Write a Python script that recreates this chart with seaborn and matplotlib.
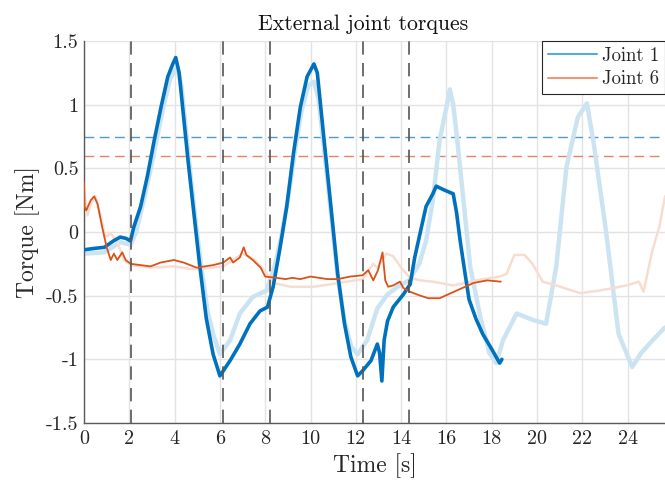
import numpy as np
import pandas as pd
import matplotlib
matplotlib.use("Agg")
import matplotlib.pyplot as plt
import seaborn as sns
from matplotlib.lines import Line2D

# ---- data ----
j1_t = [0.0, 0.4, 0.9, 1.3, 1.6, 1.85, 2.05, 2.2, 2.5, 2.8, 3.1, 3.4, 3.7, 3.92, 4.05, 4.2, 4.4, 4.6,
        4.85, 5.1, 5.4, 5.7, 6.0, 6.15, 6.45, 6.88, 7.33, 7.77, 8.1, 8.35, 8.65, 8.95, 9.25, 9.55, 9.85,
        10.15, 10.3, 10.6, 10.9, 11.2, 11.5, 11.78, 12.08, 12.3, 12.67, 12.95, 13.05, 13.15, 13.25, 13.4,
        13.65, 14.1, 14.4, 14.6, 14.85, 15.1, 15.4, 15.55, 15.9, 16.3, 16.45, 16.6, 16.8, 17.0, 17.3,
        17.6, 18.0, 18.35, 18.45]
j1_v = [-0.14, -0.13, -0.12, -0.07, -0.04, -0.05, -0.07, 0.04, 0.2, 0.44, 0.72, 0.98, 1.22, 1.32, 1.37,
        1.25, 0.9, 0.55, 0.15, -0.25, -0.68, -0.96, -1.13, -1.09, -1.01, -0.88, -0.72, -0.62, -0.59,
        -0.43, -0.13, 0.2, 0.62, 0.98, 1.22, 1.32, 1.25, 0.72, 0.2, -0.33, -0.72, -0.98, -1.13, -1.09,
        -1.01, -0.88, -0.95, -1.17, -0.85, -0.7, -0.59, -0.49, -0.41, -0.2, 0.0, 0.2, 0.3, 0.36, 0.33,
        0.3, 0.15, -0.06, -0.3, -0.53, -0.68, -0.8, -0.92, -1.03, -1.0]

j1f_t = [0.0, 0.9, 1.6, 2.06, 2.3, 2.6, 2.9, 3.2, 3.5, 3.8, 4.1, 4.3, 4.5, 4.7, 4.95, 5.2, 5.45, 5.7,
         6.0, 6.45, 6.88, 7.45, 8.05, 8.4, 8.7, 9.0, 9.3, 9.6, 9.9, 10.15, 10.35, 10.6, 10.9, 11.2, 11.5,
         11.8, 12.08, 12.5, 12.95, 13.4, 13.85, 14.35, 14.8, 15.1, 15.4, 15.7, 16.0, 16.15, 16.3, 16.45,
         16.75, 17.05, 17.5, 17.9, 18.2, 18.5, 19.1, 19.8, 20.4, 20.85, 21.3, 21.8, 22.2, 22.5, 23.05,
         23.6, 24.2, 24.6, 25.1, 25.65]
j1f_v = [-0.17, -0.16, -0.08, -0.1, 0.0, 0.22, 0.46, 0.72, 0.98, 1.2, 1.3, 1.15, 0.8, 0.45, 0.05, -0.3,
         -0.62, -0.8, -0.96, -0.85, -0.64, -0.51, -0.46, -0.28, -0.05, 0.25, 0.62, 0.95, 1.15, 1.18,
         1.05, 0.65, 0.15, -0.35, -0.7, -0.9, -0.96, -0.85, -0.6, -0.49, -0.43, -0.38, -0.25, -0.07,
         0.25, 0.72, 0.98, 1.12, 1.0, 0.77, 0.25, -0.27, -0.67, -0.95, -1.03, -0.85, -0.64, -0.69,
         -0.72, -0.27, 0.51, 0.9, 1.01, 0.7, 0.0, -0.8, -1.06, -0.95, -0.85, -0.75]

j6_t = [0.0, 0.02, 0.1, 0.3, 0.45, 0.6, 0.8, 1.0, 1.18, 1.32, 1.47, 1.69, 1.84, 2.06, 2.5, 2.94, 3.38,
        3.97, 4.4, 4.97, 5.7, 6.15, 6.45, 6.58, 6.88, 7.05, 7.17, 7.45, 7.8, 8.0, 8.5, 8.9, 9.2, 9.55,
        10.0, 10.75, 11.2, 11.75, 12.3, 12.55, 12.77, 12.98, 13.18, 13.3, 13.43, 13.65, 13.95, 14.1,
        14.4, 14.85, 15.2, 15.7, 16.45, 17.2, 17.8, 18.4]
j6_v = [0.39, 0.2, 0.17, 0.25, 0.28, 0.22, 0.04, -0.12, -0.22, -0.17, -0.22, -0.16, -0.22, -0.25,
        -0.26, -0.27, -0.24, -0.22, -0.24, -0.28, -0.26, -0.24, -0.2, -0.24, -0.2, -0.12, -0.18, -0.22,
        -0.28, -0.35, -0.36, -0.37, -0.36, -0.37, -0.35, -0.37, -0.37, -0.35, -0.34, -0.3, -0.38, -0.3,
        -0.16, -0.38, -0.43, -0.42, -0.39, -0.44, -0.47, -0.5, -0.52, -0.52, -0.46, -0.4, -0.38, -0.39]

j6f_t = [0.0, 0.15, 0.3, 0.5, 0.73, 0.95, 1.18, 1.47, 1.76, 2.06, 2.94, 3.97, 4.7, 5.1, 6.15, 7.0, 7.55,
         8.0, 8.35, 9.1, 10.15, 10.9, 11.6, 12.3, 12.77, 12.95, 13.35, 13.65, 14.0, 14.4, 14.85, 15.4,
         16.3, 17.3, 18.35, 18.65, 19.0, 19.45, 19.8, 20.25, 20.85, 21.9, 22.75, 23.95, 24.5, 24.7,
         25.1, 25.4, 25.65]
j6f_v = [0.33, 0.13, 0.22, 0.28, 0.13, -0.04, -0.01, -0.08, -0.22, -0.26, -0.28, -0.27, -0.29, -0.29,
         -0.27, -0.17, -0.22, -0.31, -0.4, -0.43, -0.43, -0.41, -0.39, -0.37, -0.25, -0.28, -0.17,
         -0.19, -0.28, -0.36, -0.38, -0.39, -0.42, -0.38, -0.35, -0.33, -0.18, -0.18, -0.25, -0.39,
         -0.42, -0.48, -0.46, -0.42, -0.39, -0.47, -0.14, 0.04, 0.28]

event_times = [2.06, 6.15, 8.2, 12.3, 14.35]
thresholds = [0.75, 0.6]
series_names = ["Joint 1", "Joint 6"]
x_ticks = [0, 2, 4, 6, 8, 10, 12, 14, 16, 18, 20, 22, 24]
y_ticks = [-1.5, -1, -0.5, 0, 0.5, 1, 1.5]
y_tick_labels = ["-1.5", "-1", "-0.5", "0", "0.5", "1", "1.5"]

# ---- style ----
sns.set_style("white")
plt.rcParams['font.family'] = ['cmr10', 'DejaVu Serif']
plt.rcParams['axes.unicode_minus'] = False
plt.rcParams['mathtext.fontset'] = 'cm'

blue = "#0072BD"
orange = "#D95319"
blue_f = "#CCE3F2"
orange_f = "#F7DDD1"
blue_h = "#4C9CD1"
orange_h = "#E4865E"

fig = plt.figure(figsize=(6.65, 4.87), dpi=100)
ax = fig.add_axes([84/665, 1 - 423/487, 1 - 84/665, (423 - 41)/487])

df1f = pd.DataFrame({"t": j1f_t, "v": j1f_v})
df6f = pd.DataFrame({"t": j6f_t, "v": j6f_v})
df1 = pd.DataFrame({"t": j1_t, "v": j1_v})
df6 = pd.DataFrame({"t": j6_t, "v": j6_v})

sns.lineplot(data=df1f, x="t", y="v", ax=ax, color=blue_f, lw=3.2, estimator=None, sort=False, zorder=2)
sns.lineplot(data=df6f, x="t", y="v", ax=ax, color=orange_f, lw=1.8, estimator=None, sort=False, zorder=2)
sns.lineplot(data=df1, x="t", y="v", ax=ax, color=blue, lw=2.6, estimator=None, sort=False, zorder=3)
sns.lineplot(data=df6, x="t", y="v", ax=ax, color=orange, lw=1.3, estimator=None, sort=False, zorder=3)

ax.axhline(thresholds[0], color=blue_h, lw=1.0, ls=(0, (7, 4)), zorder=1.5)
ax.axhline(thresholds[1], color=orange_h, lw=1.0, ls=(0, (7, 4)), zorder=1.5)
for et in event_times:
    ax.axvline(et, color="#555555", lw=1.2, ls=(0, (8, 5)), zorder=4)

ax.set_xlim(0, 25.65)
ax.set_ylim(-1.5, 1.5)
ax.set_xticks(x_ticks)
ax.set_xticklabels([str(x) for x in x_ticks])
ax.set_yticks(y_ticks)
ax.set_yticklabels(y_tick_labels)
ax.grid(True, color="#E3E3E3", lw=1.0, zorder=0)
ax.set_axisbelow(True)
for s in ["top", "right"]:
    ax.spines[s].set_visible(False)
for s in ["left", "bottom"]:
    ax.spines[s].set_color("#5a5a5a")
    ax.spines[s].set_linewidth(1.0)
ax.tick_params(direction="in", length=5, width=0.8, color="#5a5a5a", labelsize=14.5,
               labelcolor="#262626", pad=5)
ax.tick_params(axis="y", pad=4)

ax.set_title("External joint torques", fontsize=15.7, color="#111111", pad=8,
             x=(363.5 - 84) / 581)
ax.set_xlabel("Time [s]", fontsize=17, color="#262626", labelpad=4)
ax.set_ylabel("Torque [Nm]", fontsize=17, color="#262626", labelpad=4)

handles = [Line2D([], [], color="#5AA8DC", lw=1.5), Line2D([], [], color="#E89A7A", lw=1.5)]
leg = ax.legend(handles, series_names, loc="upper right", fontsize=13.5, frameon=True, fancybox=False,
                edgecolor="#262626", framealpha=1, borderpad=0.3, handlelength=2.6, handletextpad=0.3,
                labelspacing=0.3, borderaxespad=0.0)
leg.get_frame().set_linewidth(0.8)

fig.savefig("out.png", dpi=100)
